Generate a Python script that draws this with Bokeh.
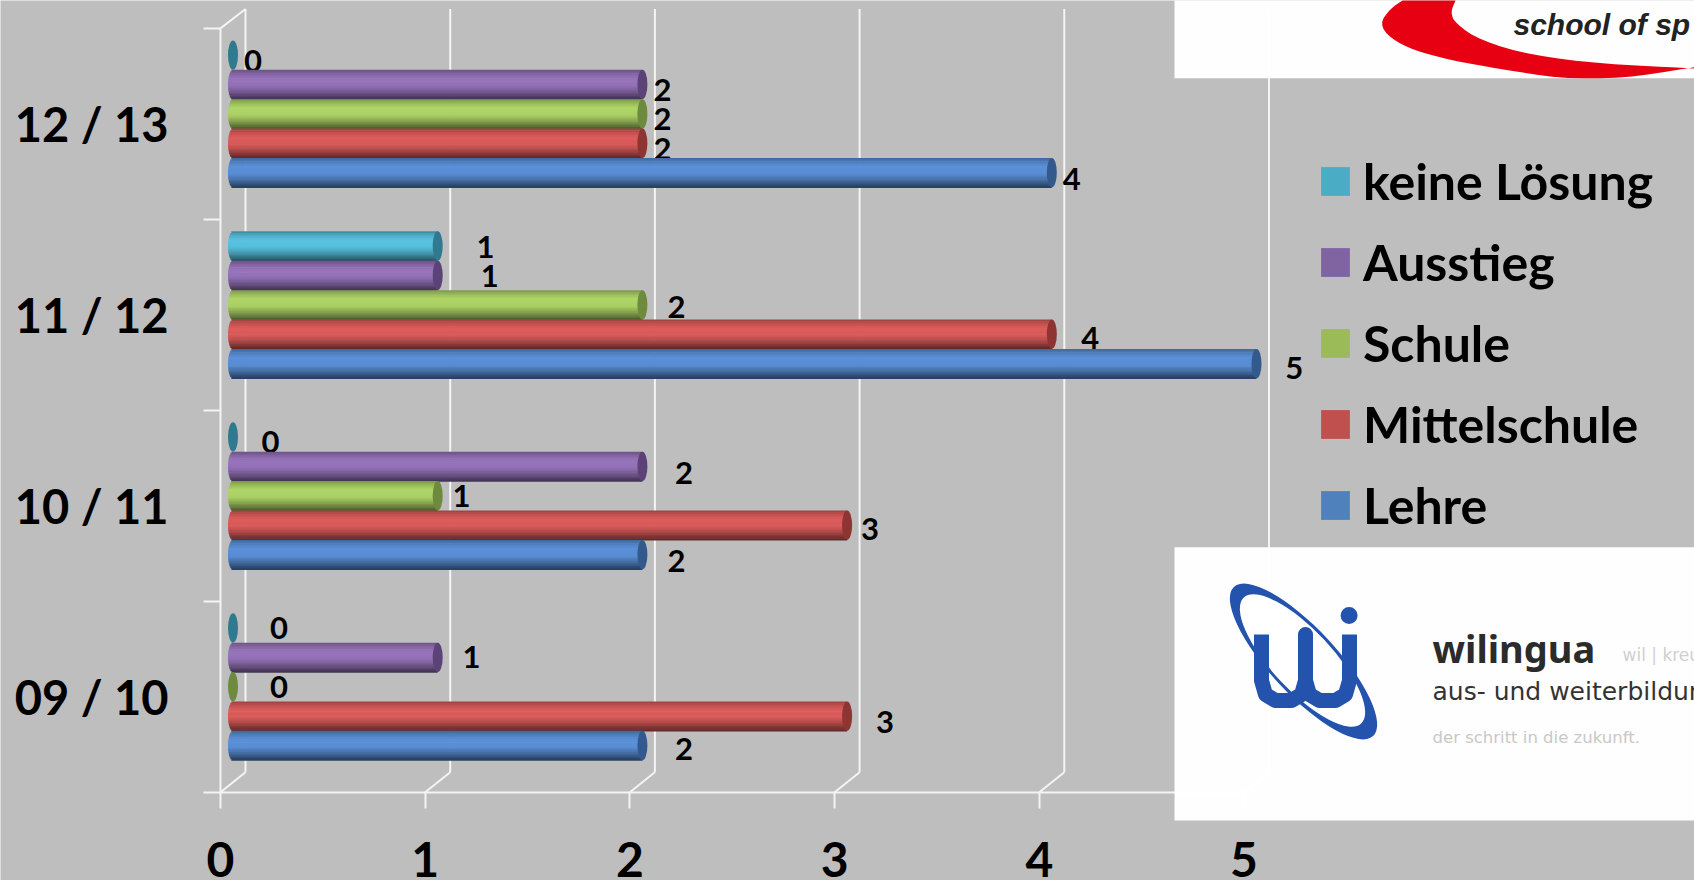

import numpy as np
from bokeh.plotting import figure
from bokeh.embed import file_html
from bokeh.resources import INLINE
from bokeh.core.properties import value
from bokeh.models import FixedTicker, Legend, LegendItem

# ---- data ----
categories = ["09 / 10", "10 / 11", "11 / 12", "12 / 13"]
lehre = [2, 2, 5, 4]
mittelschule = [3, 3, 4, 2]
schule = [0, 1, 2, 2]
ausstieg = [1, 2, 1, 2]
keine_loesung = [0, 0, 1, 0]
series_names = ["Lehre", "Mittelschule", "Schule", "Ausstieg", "keine Lösung"]
x_ticks = [0, 1, 2, 3, 4, 5]

# ---- style ----
BG = "#bebebe"
WHITE = "#f4f4f4"
legend_colors = ["#4F81BD", "#C0504D", "#9BBB59", "#8064A2", "#4BACC6"]
bar_colors = ["#5b91da", "#dd5d5b", "#afd667", "#9874bc", "#58c4e3"]
cap_colors = ["#34598c", "#8e3533", "#6d8a3e", "#5b4378", "#2f7a8f"]
all_values = [lehre, mittelschule, schule, ausstieg, keine_loesung]

# hand-placed data label offsets in px from bar end (series -> category)
label_dx = [[41.7, 34.2, 37.8, 20], [38, 22.8, 38.4, 20], [46, 23.9, 34, 20],
            [33.7, 41.7, 52, 20], [46, 37.5, 47.8, 20]]
label_dy = [[3.4, 6.5, 4, 6.2], [5.8, 3.5, 3.4, 5.4], [.7, .5, 2.5, 5.6],
            [0, 6.2, .6, 5.8], [0, 5.3, .8, 6]]

# ---- geometry: page pixels per data unit ----
UX, UY = 204.7, 190.95
X0, Y0 = 220.0, 791.7
W, H = 1694, 880
def X(px): return (np.asarray(px, dtype=float) - X0) / UX
def Y(py): return (Y0 - np.asarray(py, dtype=float)) / UY

p = figure(width=W, height=H, output_backend="svg", toolbar_location=None,
           x_range=(X(0), X(W)), y_range=(Y(H), Y(0)),
           min_border=0, outline_line_color=None,
           background_fill_color=BG, border_fill_color=BG)
p.grid.visible = False

# ---- pseudo-3D walls ----
depth_x, depth_y = 25 / UX, 20 / UY
top = len(categories)
p.segment(x0=[t + depth_x for t in x_ticks], y0=[depth_y] * 6,
          x1=[t + depth_x for t in x_ticks], y1=[top + 19.4 / UY] * 6,
          line_color=WHITE, line_width=2)
p.segment(x0=x_ticks, y0=[0] * 6, x1=[t + depth_x for t in x_ticks], y1=[depth_y] * 6,
          line_color=WHITE, line_width=2)
p.segment(x0=[0], y0=[top], x1=[depth_x], y1=[top + 19.4 / UY], line_color=WHITE, line_width=2)

# ---- axes ----
xa = p.xaxis[0]
xa.fixed_location = 0
xa.bounds = (0, 5)
xa.ticker = FixedTicker(ticks=x_ticks, minor_ticks=[])
xa.axis_line_color = WHITE
xa.axis_line_width = 2
xa.major_tick_line_color = WHITE
xa.major_tick_line_width = 2
xa.major_tick_in = 0
xa.major_tick_out = 16
xa.major_label_standoff = 34
xa.major_label_text_font = "Lato"
xa.major_label_text_font_style = "bold"
xa.major_label_text_font_size = "48px"
xa.major_label_text_color = "#000000"

ya = p.yaxis[0]
ya.fixed_location = 0
ya.bounds = (0, top)
ya.ticker = FixedTicker(ticks=[i + 0.5 for i in range(top)], minor_ticks=list(range(top + 1)))
ya.major_label_overrides = {i + 0.5: c for i, c in enumerate(categories)}
ya.axis_line_color = WHITE
ya.axis_line_width = 2
ya.major_tick_line_color = None
ya.major_tick_in = 0
ya.major_tick_out = 0
ya.minor_tick_line_color = WHITE
ya.minor_tick_line_width = 2
ya.minor_tick_in = 0
ya.minor_tick_out = 17
ya.major_label_standoff = 35
ya.major_label_text_font = "Lato"
ya.major_label_text_font_style = "bold"
ya.major_label_text_font_size = "47px"
ya.major_label_text_color = "#000000"

# ---- cylinders ----
bar_dx, bar_dy = 12.5 / UX, 10 / UY
bar_h = 29.4 / UY
N = 18
ts = (np.arange(N) + 0.5) / N * 2 - 1
prof_t = [-1, -.75, -.4, .1, .5, .8, 1]
prof_v = [.70, .86, 1.0, .97, .76, .56, .42]
def shade(col, m):
    r, g, b = (int(col[i:i + 2], 16) for i in (1, 3, 5))
    return "#%02x%02x%02x" % (int(r * m), int(g * m), int(b * m))

for k in range(4, -1, -1):
    vals = all_values[k]
    ycs = [i + 0.5 + bar_dy + (k - 2) * bar_h for i in range(len(vals))]
    ends = [v + bar_dx for v in vals]
    L, R, T, B, C = [], [], [], [], []
    for yc, v, e in zip(ycs, vals, ends):
        if v <= 0:
            continue
        for t in ts:
            ytop = yc - t * bar_h / 2 + bar_h / N / 2
            L.append(bar_dx - 5 / UX * np.sqrt(1 - t * t))
            R.append(e)
            T.append(ytop)
            B.append(ytop - bar_h / N - 0.6 / UY)
            C.append(shade(bar_colors[k], float(np.interp(t, prof_t, prof_v))))
    p.quad(left=L, right=R, top=T, bottom=B, fill_color=C, line_color=None)
    p.ellipse(x=ends, y=ycs, width=10, height=29.4, width_units="screen", height_units="screen",
              fill_color=cap_colors[k], line_color=None)
    p.text(x=ends, y=ycs, text=[str(v) for v in vals],
           x_offset=label_dx[k], y_offset=label_dy[k],
           text_font=value("Lato"), text_font_style="bold", text_font_size="31px",
           text_color="#000000", text_align="center", text_baseline="middle")

# ---- legend ----
items = []
for k in range(4, -1, -1):
    r = p.quad(left=[0], right=[0], top=[0], bottom=[0], fill_color=legend_colors[k], line_color=None)
    items.append(LegendItem(label=series_names[k], renderers=[r]))
legend = Legend(items=items, location=(1317, 345), padding=0, margin=0, spacing=21,
                glyph_width=36, glyph_height=36, label_standoff=10,
                background_fill_alpha=0, border_line_color=None,
                label_text_font="Lato", label_text_font_style="bold",
                label_text_font_size="50px", label_text_color="#000000")
p.add_layout(legend, "center")

# ---- logo panels (decorative) ----
p.quad(left=[X(1174), X(1174)], right=[X(1694), X(1694)], top=[Y(0), Y(546.7)], bottom=[Y(77.7), Y(820)],
       fill_color="#ffffff", fill_alpha=0.98, line_color=None, level="overlay")

def chaikin(xs, ys, n=2):
    pts = np.column_stack([xs, ys]).astype(float)
    for _ in range(n):
        q = 0.75 * pts[:-1] + 0.25 * pts[1:]
        r = 0.25 * pts[:-1] + 0.75 * pts[1:]
        mid = np.empty((2 * len(q), 2))
        mid[0::2], mid[1::2] = q, r
        pts = np.vstack([pts[:1], mid, pts[-1:]])
    return pts[:, 0], pts[:, 1]

ox, oy = chaikin([1402, 1390, 1379, 1390, 1414, 1452, 1497, 1560, 1622, 1694],
                 [0, 8, 23, 38, 50, 60, 68, 78, 78, 66.7])
ix, iy = chaikin([1694, 1601, 1532, 1480, 1455, 1450, 1455], [68, 63.3, 55, 40, 23, 12, 0])
p.patch(x=X(np.concatenate([ox, ix])), y=Y(np.clip(np.concatenate([oy, iy]), 0, 77.7)),
        fill_color="#e60012", line_color=None, level="overlay")

def label(txt, px, py, font, size, color, style="normal"):
    p.text(x=[X(px)], y=[Y(py)], text=[txt], text_font=value(font), text_font_style=style,
           text_font_size=size, text_color=color, text_align="left", text_baseline="middle", level="overlay")
label("school of sp", 1513, 24, "Liberation Sans", "30px", "#222222", "bold italic")

LOGO = "#2353ad"
p.ellipse(x=[X(1303)], y=[Y(661)], width=204, height=66, angle=-0.82, width_units="screen", height_units="screen",
          fill_color=LOGO, line_color=None, level="overlay")
p.ellipse(x=[X(1302)], y=[Y(660)], width=172, height=60, angle=-0.82, width_units="screen", height_units="screen",
          fill_color="#ffffff", line_color=None, level="overlay")
wx = [1261, 1261, 1265, 1275, 1291, 1301, 1305, 1305, 1305, 1309, 1319, 1335, 1345, 1349, 1349]
wy = [634, 680, 694, 700, 700, 694, 680, 634, 680, 694, 700, 700, 694, 680, 634]
p.line(x=X(wx), y=Y(wy), line_color=LOGO, line_width=15, line_join="round", level="overlay")
p.scatter(x=[X(1348.6)], y=[Y(615)], size=17, fill_color=LOGO, line_color=None, level="overlay")
label("wilingua", 1432, 647, "Noto Sans", "38px", "#2b2b2b", "bold")
label("wil | kreu", 1622, 654, "DejaVu Sans", "17px", "#d0d0d0")
label("aus- und weiterbildung", 1432, 691, "DejaVu Sans", "25px", "#333333")
label("der schritt in die zukunft.", 1432, 737, "DejaVu Sans", "16.5px", "#c8c8c8")

open("out.html", "w").write(file_html(p, INLINE))
